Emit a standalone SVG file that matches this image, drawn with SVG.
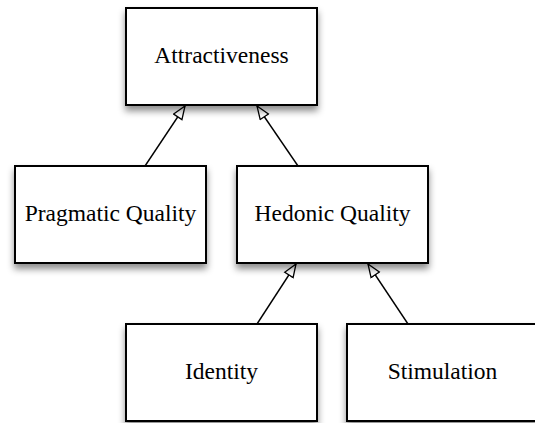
<svg xmlns="http://www.w3.org/2000/svg" width="535" height="423" viewBox="0 0 535 423">
  <defs>
    <filter id="shadow" x="-20%" y="-20%" width="140%" height="150%">
      <feDropShadow dx="0" dy="5" stdDeviation="3.5" flood-color="#000" flood-opacity="0.45"/>
    </filter>
    <marker id="hollow" markerUnits="userSpaceOnUse" markerWidth="16" markerHeight="14" refX="14" refY="6" orient="auto">
      <path d="M1,1 L14,6 L1,11 Z" fill="#fff" stroke="#000" stroke-width="1.3" stroke-linejoin="miter"/>
    </marker>
    <style>
      .box { fill: #fff; stroke: #000; stroke-width: 2; filter: url(#shadow); }
      .label { font-family: "Liberation Serif", "Times New Roman", serif; font-size: 23.5px; fill: #000; text-anchor: middle; }
      .edge { fill: none; stroke: #000; stroke-width: 1.4; marker-end: url(#hollow); }
    </style>
  </defs>
  <rect width="535" height="423" fill="#fff"/>

  <!-- generalization edges: child points up to parent -->
  <g id="connectors">
    <line class="edge" x1="145" y1="166" x2="185" y2="106"/>
    <line class="edge" x1="298" y1="166" x2="257" y2="106"/>
    <line class="edge" x1="257" y1="324" x2="296" y2="264"/>
    <line class="edge" x1="408" y1="324" x2="368" y2="264"/>
  </g>

  <g id="attractiveness">
    <rect class="box" x="126" y="8" width="191" height="97"/>
    <text class="label" x="221.5" y="63">Attractiveness</text>
  </g>
  <g id="pragmatic-quality">
    <rect class="box" x="15" y="166" width="191" height="97"/>
    <text class="label" x="110.5" y="221">Pragmatic Quality</text>
  </g>
  <g id="hedonic-quality">
    <rect class="box" x="237" y="166" width="191" height="97"/>
    <text class="label" x="332.5" y="221">Hedonic Quality</text>
  </g>
  <g id="identity">
    <rect class="box" x="126" y="324" width="191" height="97"/>
    <text class="label" x="221.5" y="379">Identity</text>
  </g>
  <g id="stimulation">
    <rect class="box" x="347" y="324" width="191" height="97"/>
    <text class="label" x="442.5" y="379">Stimulation</text>
  </g>
</svg>
